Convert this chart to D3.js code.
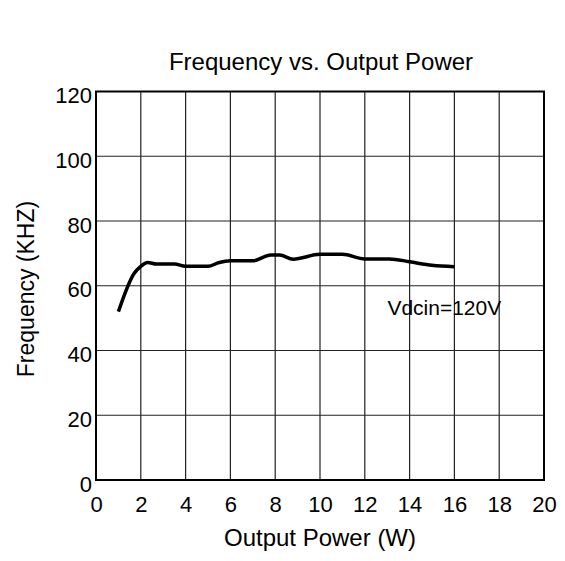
<!DOCTYPE html>
<html>
<head>
<meta charset="utf-8">
<script src="https://cdn.jsdelivr.net/npm/d3@7"></script>
<style>
  body { margin: 0; background: #fff; }
  svg text { font-family: "Liberation Sans", Arial, sans-serif; fill: #000; }
</style>
</head>
<body>
<div id="chart"></div>
<script>
// data
var power = [1.0, 1.7, 2.0, 2.3, 2.7, 3.5, 4.0, 5.0, 5.5, 6.0, 7.0, 7.8, 8.2, 8.8, 10.0, 11.0, 12.0, 13.1, 14.0, 15.0, 16.0];
var freq  = [52, 63.8, 66, 67.2, 66.7, 66.7, 66, 66, 67.2, 67.7, 67.7, 69.5, 69.5, 68.2, 69.7, 69.7, 68.3, 68.3, 67.4, 66.3, 65.9];
var xTicks = [0, 2, 4, 6, 8, 10, 12, 14, 16, 18, 20];
var yTicks = [0, 20, 40, 60, 80, 100, 120];
var title = "Frequency vs. Output Power";
var xLabel = "Output Power (W)";
var yLabel = "Frequency (KHZ)";
var note = "Vdcin=120V";

var W = 565, H = 561;
var margin = {top: 91.5, right: 21, bottom: 81, left: 96},
    width = W - margin.left - margin.right,
    height = H - margin.top - margin.bottom;

var svg = d3.select("#chart").append("svg")
  .attr("width", W)
  .attr("height", H);

var g = svg.append("g")
  .attr("transform", "translate(" + margin.left + "," + margin.top + ")");

var x = d3.scaleLinear().domain([0, 20]).range([0, width]);
var y = d3.scaleLinear().domain([0, 120]).range([height, 0]);

// grid
g.append("g")
  .selectAll("line.vx")
  .data(xTicks)
  .enter().append("line")
  .attr("x1", function(d) { return x(d); })
  .attr("x2", function(d) { return x(d); })
  .attr("y1", 0).attr("y2", height)
  .attr("stroke", "#222").attr("stroke-width", 1.2);

g.append("g")
  .selectAll("line.hy")
  .data(yTicks)
  .enter().append("line")
  .attr("y1", function(d) { return y(d); })
  .attr("y2", function(d) { return y(d); })
  .attr("x1", 0).attr("x2", width)
  .attr("stroke", "#222").attr("stroke-width", 1.2);

// axes (labels only)
var xAxis = g.append("g")
  .attr("transform", "translate(0," + height + ")")
  .call(d3.axisBottom(x).tickValues(xTicks).tickSize(0).tickPadding(16));
xAxis.select(".domain").remove();
xAxis.selectAll("text").style("font-size", "22px");

var yAxis = g.append("g")
  .call(d3.axisLeft(y).tickValues(yTicks).tickSize(0).tickPadding(4));
yAxis.select(".domain").remove();
yAxis.selectAll("text").style("font-size", "22px").attr("dy", "0.5em");

// frame
g.append("rect")
  .attr("width", width).attr("height", height)
  .attr("fill", "none").attr("stroke", "#000").attr("stroke-width", 2);

// curve
var line = d3.line()
  .x(function(d, i) { return x(power[i]); })
  .y(function(d) { return y(d); })
  .curve(d3.curveMonotoneX);

g.append("path")
  .datum(freq)
  .attr("d", line)
  .attr("fill", "none")
  .attr("stroke", "#000")
  .attr("stroke-width", 3.5)
  .attr("stroke-linejoin", "round");

// texts
svg.append("text")
  .attr("x", 321).attr("y", 70)
  .attr("text-anchor", "middle")
  .style("font-size", "24px")
  .text(title);

svg.append("text")
  .attr("x", 320).attr("y", 546)
  .attr("text-anchor", "middle")
  .style("font-size", "24px")
  .text(xLabel);

svg.append("text")
  .attr("transform", "translate(34,289) rotate(-90)")
  .attr("text-anchor", "middle")
  .style("font-size", "23px")
  .text(yLabel);

g.append("text")
  .attr("x", x(15.55)).attr("y", y(51))
  .attr("text-anchor", "middle")
  .style("font-size", "21px")
  .text(note);
</script>
</body>
</html>
